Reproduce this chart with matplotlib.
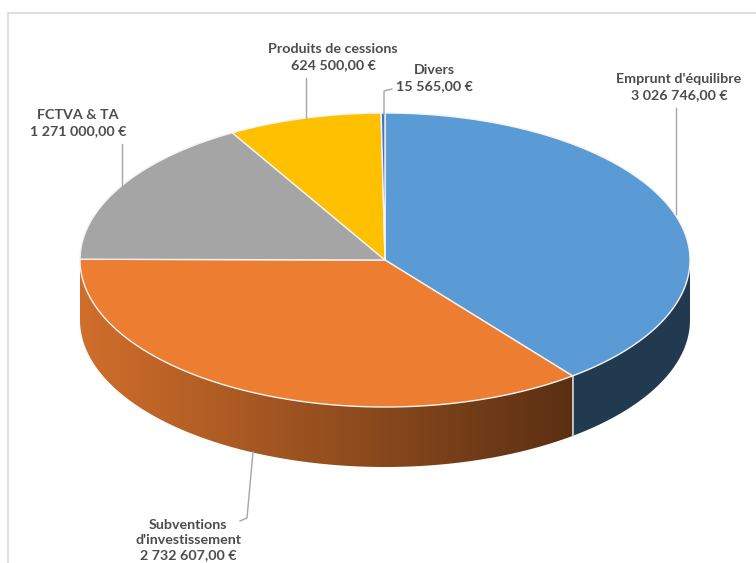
import numpy as np
import matplotlib.pyplot as plt
from matplotlib.patches import Polygon
from matplotlib.colors import to_rgb

# Données du graphique ───────────────────────────────────────
labels = ["Emprunt d'équilibre", "Subventions\nd'investissement", "FCTVA & TA",
          "Produits de cessions", "Divers"]
values = [3026746.00, 2732607.00, 1271000.00, 624500.00, 15565.00]
value_labels = ["3 026 746,00 €", "2 732 607,00 €", "1 271 000,00 €",
                "624 500,00 €", "15 565,00 €"]
colors = ["#5B9BD5", "#ED7D31", "#A5A5A5", "#FFC000", "#4472C4"]

# Géométrie du camembert 3D (pixels) ─────────────────────────
CX, CY = 385, 260
RX, RY = 305, 147
DEPTH = 60
TEXT_COLOR = "#4D4D4D"
LEADER_COLOR = "#A6A6A6"


def pt(t):
    t = np.radians(t)
    return CX + RX * np.cos(t), CY - RY * np.sin(t)


def side_gradient(color, dark=False):
    # dégradé horizontal clair -> foncé sur toute la largeur du camembert
    xs = np.arange(756)
    f = np.clip((xs - (CX - RX)) / (2 * RX), 0, 1)
    k = np.full_like(f, 0.38) if dark else np.maximum(0.88 - 0.62 * f, 0.25)
    rgb = np.array(to_rgb(color))
    img = k[:, None] * rgb[None, :]
    return np.repeat(img[None, :, :], 2, axis=0)


fig = plt.figure(figsize=(7.56, 5.63), dpi=100)
ax = fig.add_axes([0, 0, 1, 1])
ax.set_xlim(0, 756)
ax.set_ylim(563, 0)
ax.axis("off")

# cadre du graphique
ax.plot([8, 8, 760], [570, 13, 13], color="#D9D9D9", lw=1.2)

total = sum(values)
angles = 90 - 360 * np.cumsum([0] + values) / total
bounds = list(zip(angles[:-1], angles[1:]))

# faces latérales (partie avant : angles entre -180 et 0)
for i, ((a, b), col) in enumerate(zip(bounds, colors)):
    lo, hi = max(b, -180), min(a, 0)
    if hi <= lo:
        continue
    ts = np.linspace(hi, lo, 200)
    top = [pt(t) for t in ts]
    bottom = [(x, y + DEPTH) for x, y in top[::-1]]
    poly = Polygon(top + bottom, closed=True, facecolor="none", edgecolor="none")
    ax.add_patch(poly)
    im = ax.imshow(side_gradient(col, dark=(i == 0)), extent=(0, 756, 563, 0),
                   aspect="auto", interpolation="bilinear", zorder=1)
    im.set_clip_path(poly)
    if -180 < b < 0:
        x, y = pt(b)
        ax.plot([x, x], [y, y + DEPTH], color="#D8D8D8", lw=1.2, zorder=2)

ax.set_xlim(0, 756)
ax.set_ylim(563, 0)

# faces supérieures
for (a, b), col in zip(bounds, colors):
    ts = np.linspace(a, b, max(int(abs(a - b) * 2), 3))
    pts = [(CX, CY)] + [pt(t) for t in ts]
    ax.add_patch(Polygon(pts, closed=True, facecolor=col, edgecolor="#F4F4F4",
                         lw=1, joinstyle="round", zorder=3))

# étiquettes et lignes de rappel
label_pos = [(679, 87), (188, 540), (78, 123), (333, 57), (434, 78)]
leaders = [
    [(676, 108), (676, 214)],
    [(253, 452), (247, 518), (240, 521)],
    [(122, 144), (122, 187)],
    [(306, 78), (306, 118)],
    [(384, 114), (384, 91), (392, 89)],
]
for lab, val, (x, y), ld in zip(labels, value_labels, label_pos, leaders):
    xs, ys = zip(*ld)
    ax.plot(xs, ys, color=LEADER_COLOR, lw=1, zorder=4)
    ax.text(x, y, f"{lab}\n{val}", ha="center", va="center", color=TEXT_COLOR,
            fontsize=10.3, fontweight="bold", family=["Lato", "DejaVu Sans"],
            linespacing=1.33, zorder=5)

fig.savefig("out.png", dpi=100, facecolor="white")
